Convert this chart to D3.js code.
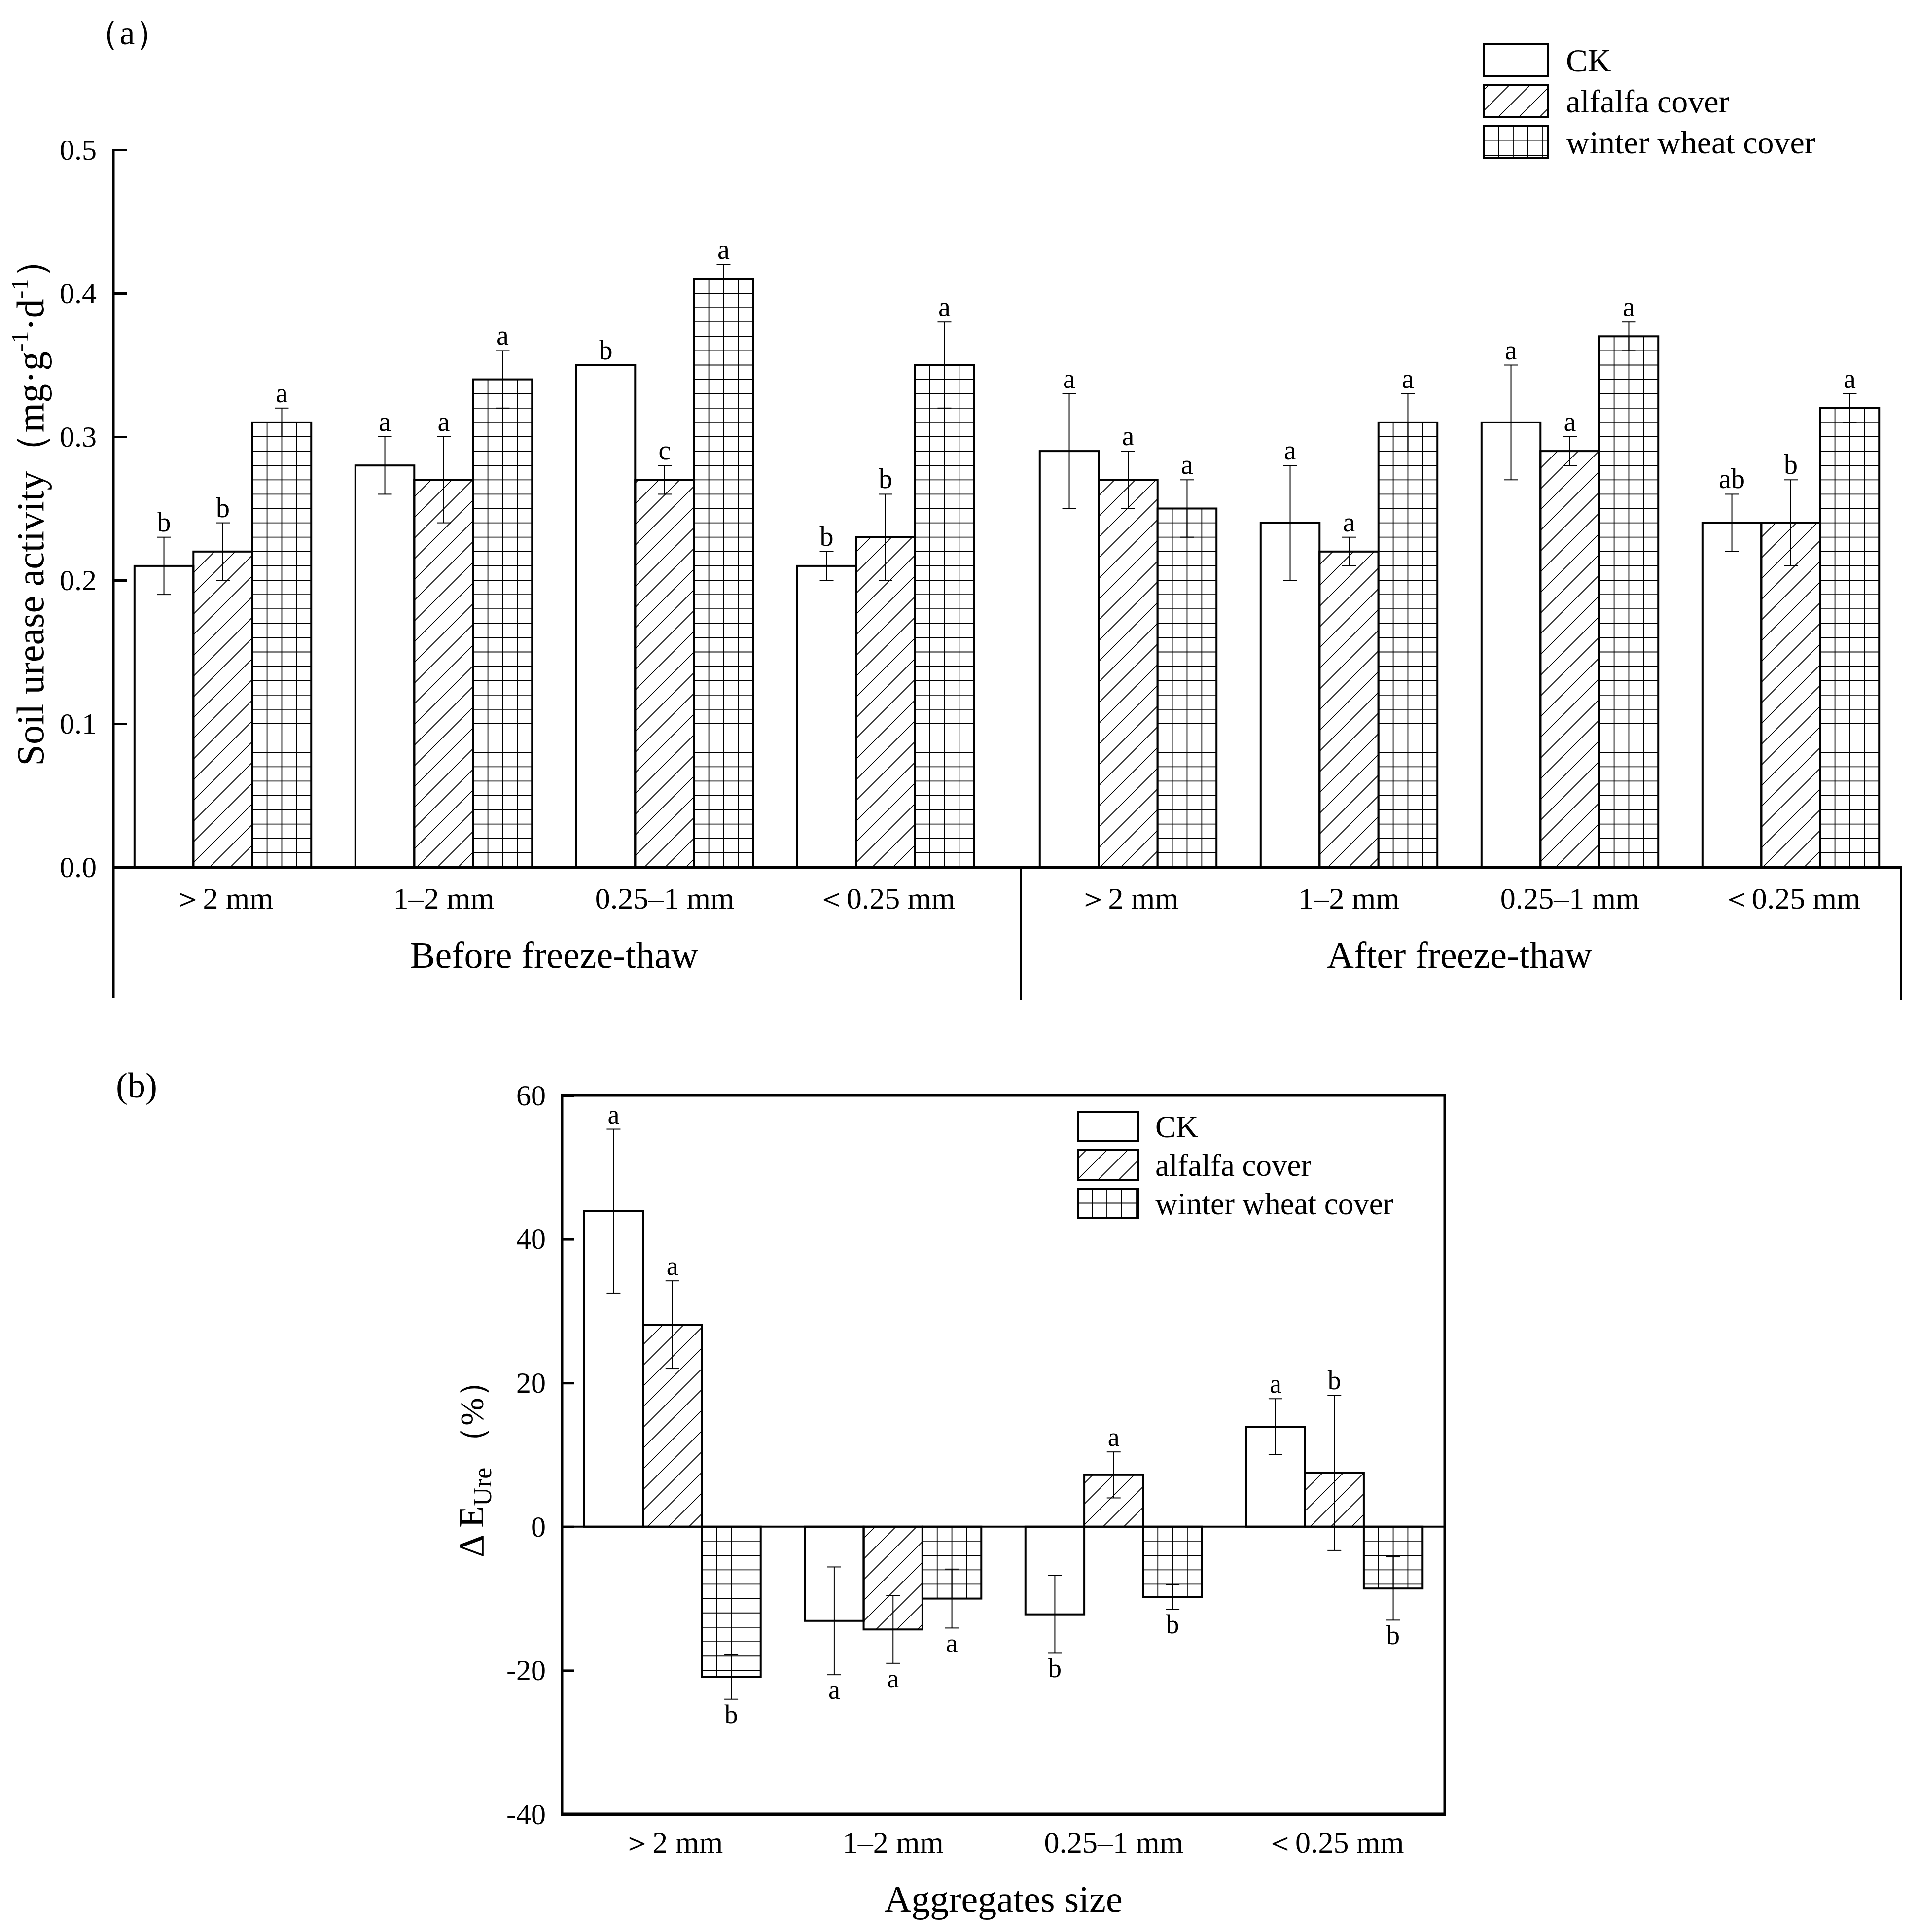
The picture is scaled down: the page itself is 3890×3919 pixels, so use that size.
<!DOCTYPE html>
<html>
<head>
<meta charset="utf-8">
<script src="https://cdn.jsdelivr.net/npm/d3@7/dist/d3.min.js"></script>
<style>
  body { margin: 0; background: #fff; }
</style>
</head>
<body>
<svg id="viz"></svg>
<script>
// ---- data ----
var sizes = ["＞2 mm", "1–2 mm", "0.25–1 mm", "＜0.25 mm"];
var series = ["CK", "alfalfa cover", "winter wheat cover"];
var periods = ["Before freeze-thaw", "After freeze-thaw"];

// panel (a): soil urease activity, rows = aggregate size, cols = CK / alfalfa / wheat
var beforeMean = [[0.21, 0.22, 0.31], [0.28, 0.27, 0.34], [0.35, 0.27, 0.41], [0.21, 0.23, 0.35]];
var beforeErr  = [[0.02, 0.02, 0.01], [0.02, 0.03, 0.02], [0.00, 0.01, 0.01], [0.01, 0.03, 0.03]];
var beforeSig  = [["b", "b", "a"], ["a", "a", "a"], ["b", "c", "a"], ["b", "b", "a"]];
var afterMean  = [[0.29, 0.27, 0.25], [0.24, 0.22, 0.31], [0.31, 0.29, 0.37], [0.24, 0.24, 0.32]];
var afterErr   = [[0.04, 0.02, 0.02], [0.04, 0.01, 0.02], [0.04, 0.01, 0.01], [0.02, 0.03, 0.01]];
var afterSig   = [["a", "a", "a"], ["a", "a", "a"], ["a", "a", "a"], ["ab", "b", "a"]];

// panel (b): change of urease activity (%)
var deltaMean = [[43.9, 28.1, -20.9], [-13.1, -14.3, -10.0], [-12.2, 7.2, -9.8], [13.9, 7.5, -8.6]];
var deltaErr  = [[11.4, 6.1, 3.1], [7.5, 4.7, 4.1], [5.4, 3.2, 1.7], [3.9, 10.8, 4.4]];
var deltaSig  = [["a", "a", "b"], ["a", "a", "a"], ["b", "a", "b"], ["a", "b", "b"]];

var ticksA = [0, 0.1, 0.2, 0.3, 0.4, 0.5];
var ticksB = [-40, -20, 0, 20, 40, 60];

// ---- page ----
var W = 3890, H = 3919;
var FONT = "'Liberation Serif','Times New Roman',serif";

var svg = d3.select("#viz").attr("width", W).attr("height", H)
  .style("font-family", FONT);
svg.append("rect").attr("width", W).attr("height", H).attr("fill", "#fff");

var defs = svg.append("defs");
var hatch = defs.append("pattern")
  .attr("id", "hatch")
  .attr("patternUnits", "userSpaceOnUse")
  .attr("width", 42).attr("height", 42);
hatch.append("path")
  .attr("d", "M0,42 L42,0 M-10.5,10.5 L10.5,-10.5 M31.5,52.5 L52.5,31.5")
  .attr("stroke", "#000").attr("stroke-width", 1.8);

function line(g, x1, y1, x2, y2, w) {
  return g.append("line")
    .attr("x1", x1).attr("y1", y1).attr("x2", x2).attr("y2", y2)
    .attr("stroke", "#000").attr("stroke-width", w);
}

// bars, hatching, grid, error bars and letters for one group of categories
function drawBars(g, x, y, means, errs, sigs, unit, letterSize) {
  var xs = d3.scaleBand().domain(series).range([0, x.bandwidth()]);
  var bw = xs.bandwidth();
  var y0 = y(0);
  var gridStep = Math.abs(y(unit) - y0);

  sizes.forEach(function (s, i) {
    series.forEach(function (k, j) {
      var v = means[i][j], e = errs[i][j];
      var bx = x(s) + xs(k);
      var top = Math.min(y(v), y0), h = Math.abs(y(v) - y0);
      var bar = g.append("g").attr("class", "bar");

      bar.append("rect")
        .attr("x", bx).attr("y", top).attr("width", bw).attr("height", h)
        .attr("fill", j === 1 ? "url(#hatch)" : "#fff");

      if (j === 2) {
        [1, 2, 3].forEach(function (q) {
          line(bar, bx + bw * q / 4, top, bx + bw * q / 4, top + h, 1.8);
        });
        var sign = v < 0 ? 1 : -1;
        for (var n = 1; n * gridStep < h - 1; n++) {
          var gy = y0 + sign * n * gridStep;
          line(bar, bx, gy, bx + bw, gy, 1.8);
        }
      }

      bar.append("rect")
        .attr("x", bx).attr("y", top).attr("width", bw).attr("height", h)
        .attr("fill", "none").attr("stroke", "#000").attr("stroke-width", 4);

      var cx = bx + bw / 2;
      if (e > 0) {
        line(bar, cx, y(v - e), cx, y(v + e), 2);
        line(bar, cx - 14, y(v + e), cx + 14, y(v + e), 2);
        line(bar, cx - 14, y(v - e), cx + 14, y(v - e), 2);
      }

      var ly = v >= 0 ? y(v + e) - 12 : y(v - e) + 49;
      bar.append("text")
        .attr("x", cx).attr("y", ly)
        .attr("text-anchor", "middle")
        .attr("font-size", letterSize)
        .text(sigs[i][j]);
    });
  });
}

function legend(g, x0, y0, w, h, gap, fs, tx) {
  series.forEach(function (k, j) {
    var by = y0 + j * gap;
    var item = g.append("g");
    item.append("rect").attr("x", x0).attr("y", by).attr("width", w).attr("height", h)
      .attr("fill", j === 1 ? "url(#hatch)" : "#fff");
    if (j === 2) {
      for (var gx = 29.5; gx < w; gx += 29.5) line(item, x0 + gx, by, x0 + gx, by + h, 1.8);
      for (var gy = 29.5; gy < h; gy += 29.5) line(item, x0, by + gy, x0 + w, by + gy, 1.8);
    }
    item.append("rect").attr("x", x0).attr("y", by).attr("width", w).attr("height", h)
      .attr("fill", "none").attr("stroke", "#000").attr("stroke-width", 4);
    item.append("text").attr("x", tx).attr("y", by + h / 2 + 22)
      .attr("font-size", fs).text(k);
  });
}

// ================= panel (a) =================
var aTop = 304, aBase = 1759, aFoot = 2024;
var layerRanges = [[228, 2020], [2064, 3856]];
var yA = d3.scaleLinear().domain([0, 0.5]).range([aBase, aTop]);
var ga = svg.append("g").attr("class", "panel-a");

periods.forEach(function (p, pi) {
  var x = d3.scaleBand().domain(sizes).range(layerRanges[pi])
    .paddingInner(0.2).paddingOuter(0.1);
  var gl = ga.append("g");
  drawBars(gl, x, yA,
    pi === 0 ? beforeMean : afterMean,
    pi === 0 ? beforeErr : afterErr,
    pi === 0 ? beforeSig : afterSig,
    0.01, 56);

  gl.selectAll("text.cat").data(sizes).enter().append("text")
    .attr("class", "cat")
    .attr("x", function (d) { return x(d) + x.bandwidth() / 2; })
    .attr("y", 1843)
    .attr("text-anchor", "middle")
    .attr("font-size", 62)
    .text(function (d) { return d; });

  gl.append("text")
    .attr("x", (layerRanges[pi][0] + layerRanges[pi][1]) / 2)
    .attr("y", 1963)
    .attr("text-anchor", "middle")
    .attr("font-size", 76)
    .text(p);
});

// axes of (a)
var axA = ga.append("g").attr("transform", "translate(230,0)")
  .call(d3.axisLeft(yA).tickValues(ticksA).tickFormat(d3.format(".1f"))
    .tickSizeInner(-28).tickSizeOuter(0).tickPadding(34));
axA.select(".domain").remove();
axA.selectAll(".tick line").attr("stroke-width", 5);
axA.selectAll(".tick text").attr("font-size", 60).attr("font-family", FONT).attr("fill", "#000");
line(ga, 230, aTop - 2, 230, aFoot, 5);
line(ga, 228, aBase + 1, 3858, aBase + 1, 6);
line(ga, 2070, aBase, 2070, aFoot + 4, 4);
line(ga, 3856, aBase, 3856, aFoot + 4, 4);

var labA = ga.append("text")
  .attr("transform", "translate(88,1020) rotate(-90)")
  .attr("text-anchor", "middle")
  .attr("font-size", 78);
labA.append("tspan").text("Soil urease activity（mg·g");
labA.append("tspan").attr("font-size", 50).attr("dy", -31).text("-1");
labA.append("tspan").attr("dy", 31).text("·d");
labA.append("tspan").attr("font-size", 50).attr("dy", -31).text("-1");
labA.append("tspan").attr("dy", 31).text("）");

ga.append("text").attr("x", 258).attr("y", 90).attr("text-anchor", "middle")
  .attr("font-size", 70).text("（a）");

legend(ga, 3010, 90, 130, 65, 83, 66, 3176);

// ================= panel (b) =================
var bLeft = 1140, bRight = 2930, bTop = 2222, bBottom = 3680;
var xB = d3.scaleBand().domain(sizes).range([bLeft, bRight]).paddingInner(0.2).paddingOuter(0.1);
var yB = d3.scaleLinear().domain([-40, 60]).range([bBottom, bTop]);
var gb = svg.append("g").attr("class", "panel-b");

drawBars(gb, xB, yB, deltaMean, deltaErr, deltaSig, 2, 54);

line(gb, bLeft, yB(0), bRight, yB(0), 4);

var axB = gb.append("g").attr("transform", "translate(" + bLeft + ",0)")
  .call(d3.axisLeft(yB).tickValues(ticksB).tickFormat(function (d) { return String(d); })
    .tickSizeInner(-25).tickSizeOuter(0).tickPadding(33));
axB.select(".domain").remove();
axB.selectAll(".tick line").attr("stroke-width", 5);
axB.selectAll(".tick text").attr("font-size", 60).attr("font-family", FONT).attr("fill", "#000");

gb.append("rect").attr("x", bLeft).attr("y", bTop)
  .attr("width", bRight - bLeft).attr("height", bBottom - bTop)
  .attr("fill", "none").attr("stroke", "#000").attr("stroke-width", 5);
line(gb, bLeft - 2, bBottom, bRight + 2, bBottom, 7);

gb.selectAll("text.cat").data(sizes).enter().append("text")
  .attr("class", "cat")
  .attr("x", function (d) { return xB(d) + xB.bandwidth() / 2; })
  .attr("y", 3758)
  .attr("text-anchor", "middle")
  .attr("font-size", 62)
  .text(function (d) { return d; });

gb.append("text").attr("x", (bLeft + bRight) / 2).attr("y", 3878)
  .attr("text-anchor", "middle").attr("font-size", 76).text("Aggregates size");

var labB = gb.append("text")
  .attr("transform", "translate(980," + 2963 + ") rotate(-90)")
  .attr("text-anchor", "middle")
  .attr("font-size", 72);
labB.append("tspan").text("Δ E");
labB.append("tspan").attr("font-size", 52).attr("dy", 16).text("Ure");
labB.append("tspan").attr("font-size", 68).attr("dy", -16).text(" （%）");

gb.append("text").attr("x", 235).attr("y", 2226).attr("font-size", 72).text("(b)");

legend(gb, 2186, 2255, 123, 60, 78, 63, 2343);
</script>
</body>
</html>
